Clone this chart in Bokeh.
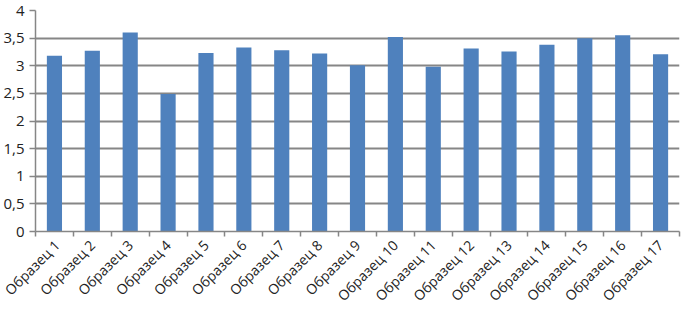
import math
from bokeh.plotting import figure
from bokeh.models import FixedTicker, Range1d
from bokeh.embed import file_html
from bokeh.resources import INLINE

categories = ["Образец %d" % i for i in range(1, 18)]
values = [3.18, 3.27, 3.60, 2.49, 3.23, 3.33, 3.28, 3.22, 3.01, 3.52,
          2.98, 3.31, 3.26, 3.38, 3.50, 3.55, 3.21]
y_ticks = [0, 0.5, 1, 1.5, 2, 2.5, 3, 3.5, 4]
y_tick_labels = ["0", "0,5", "1", "1,5", "2", "2,5", "3", "3,5", "4"]

xs = list(range(1, len(categories) + 1))

p = figure(width=681, height=314, output_backend="svg", toolbar_location=None,
           x_range=Range1d(0.5, len(categories) + 0.5), y_range=Range1d(0, 4),
           min_border_top=10, min_border_right=2, min_border_left=4)
p.outline_line_color = None
p.background_fill_color = "white"

p.vbar(x=xs, top=values, width=0.4, color="#4F81BD", line_color=None)

FONT = "Open Sans"
GRAY = "#868686"

# y axis
p.yaxis.ticker = FixedTicker(ticks=y_ticks)
p.yaxis.major_label_overrides = {t: l for t, l in zip(y_ticks, y_tick_labels)}
p.yaxis.major_label_text_font = FONT
p.yaxis.major_label_text_font_size = "15px"
p.yaxis.major_label_text_color = "#222222"
p.yaxis.axis_line_color = GRAY
p.yaxis.axis_line_width = 1.5
p.yaxis.major_tick_line_color = GRAY
p.yaxis.major_tick_line_width = 1.5
p.yaxis.major_tick_out = 6
p.yaxis.major_tick_in = 0
p.yaxis.minor_tick_line_color = None

# x axis: labels at centers, ticks at category boundaries
p.xaxis.ticker = FixedTicker(ticks=xs, minor_ticks=[x - 0.5 for x in xs] + [xs[-1] + 0.5])
p.xaxis.major_label_overrides = {x: c for x, c in zip(xs, categories)}
p.xaxis.major_label_orientation = math.pi / 4
p.xaxis.major_label_text_font = FONT
p.xaxis.major_label_text_font_size = "14px"
p.xaxis.major_label_text_color = "#222222"
p.xaxis.major_tick_line_color = None
p.xaxis.axis_line_color = GRAY
p.xaxis.axis_line_width = 1.5
p.xaxis.minor_tick_line_color = GRAY
p.xaxis.minor_tick_line_width = 1.5
p.xaxis.minor_tick_out = 5
p.xaxis.minor_tick_in = 0

p.xgrid.grid_line_color = None
p.ygrid.grid_line_color = GRAY
p.ygrid.grid_line_width = 2

open("out.html", "w").write(file_html(p, INLINE))
